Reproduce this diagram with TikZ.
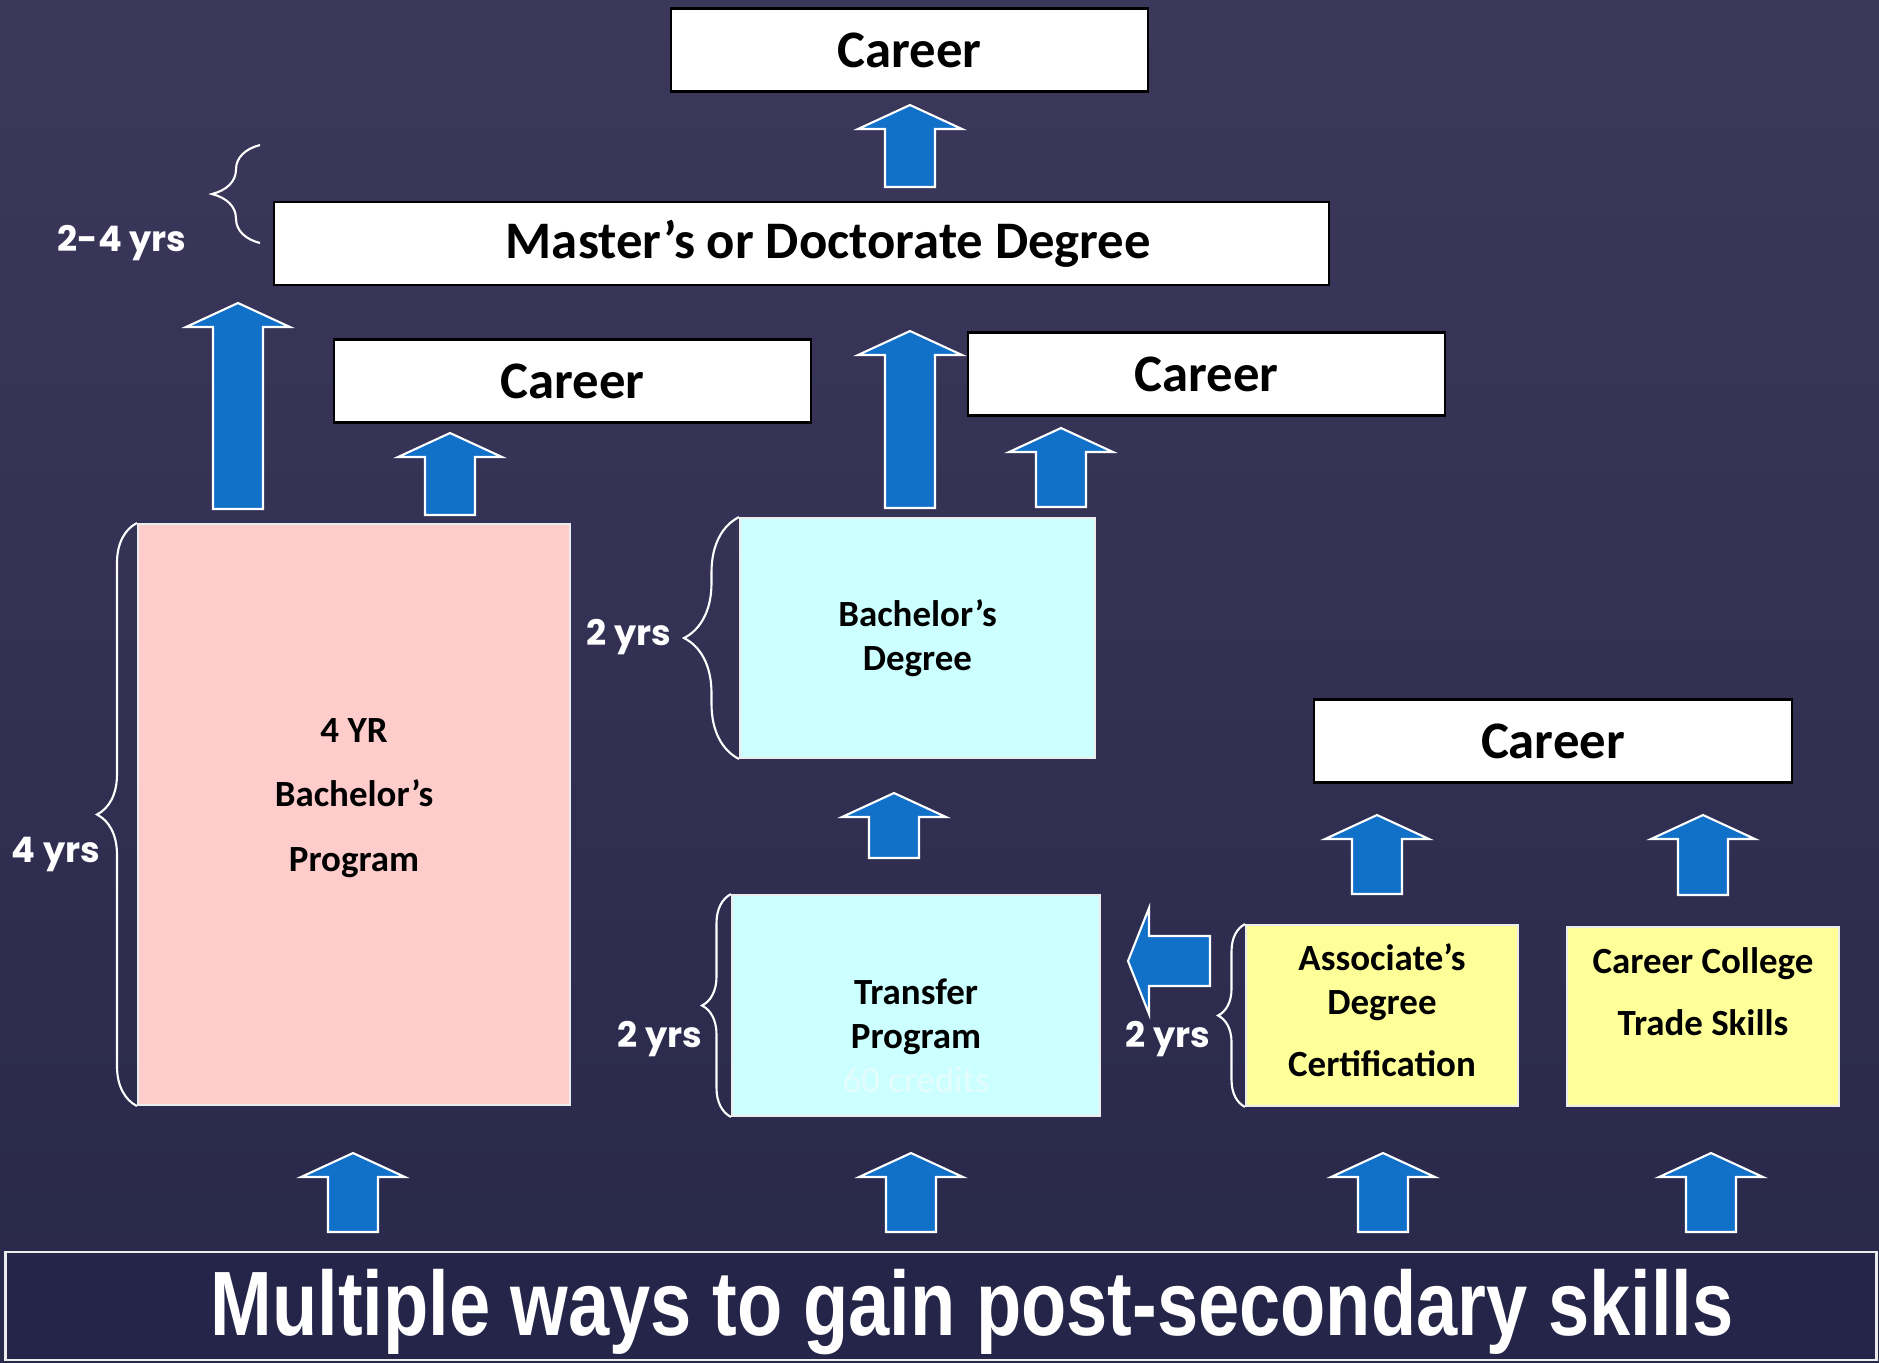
\documentclass[tikz,border=0pt]{standalone}
\usepackage{fontspec}
\setmainfont{Carlito}
\newfontfamily\yrsfont{Poppins}
\newfontfamily\bannerfont{Liberation Sans}
\usepackage{tikz}
\usetikzlibrary{positioning, calc, decorations.pathreplacing}
\definecolor{slidetop}{RGB}{60,56,92}
\definecolor{slidebot}{RGB}{40,40,74}
\definecolor{bannerfill}{RGB}{36,37,72}
\definecolor{arrowblue}{RGB}{17,112,200}
\definecolor{pinkfill}{RGB}{255,204,204}
\definecolor{cyanfill}{RGB}{204,255,255}
\definecolor{yellowfill}{RGB}{255,255,153}
\definecolor{faintcredit}{RGB}{228,252,252}
\tikzstyle{careerbox} = [rectangle, draw=black, fill=white, line width=0.6pt, minimum width=4.77cm, minimum height=0.83cm, inner sep=0pt, font=\fontsize{15}{18}\selectfont\bfseries]
\tikzstyle{pathbox} = [rectangle, draw=white!85!gray, line width=0.5pt, inner sep=0pt, align=center, font=\fontsize{10.5}{12.5}\selectfont\bfseries]
\tikzstyle{boxtext} = [align=center, inner sep=0pt, font=\fontsize{10.5}{12.5}\selectfont\bfseries]
\tikzstyle{yrs} = [text=white, inner sep=0pt, font=\yrsfont\bfseries\fontsize{10}{12}\selectfont]
\tikzstyle{blockarrow} = [fill=arrowblue, draw=white, line width=0.6pt]
\tikzset{yrbrace/.style={draw=white, line width=0.6pt, decorate, decoration={brace, amplitude=#1}}}
% block arrow pointing up: centre x, foot y, tip y (pixel units)
\newcommand{\blockup}[3]{%
  \draw[blockarrow] (#1-25,#2) -- (#1-25,#3+24) -- (#1-52,#3+24) -- (#1,#3)
    -- (#1+52,#3+24) -- (#1+25,#3+24) -- (#1+25,#2) -- cycle;}

\begin{document}
\begin{tikzpicture}[x=0.01cm, y=-0.01cm]
    % Slide background
    \useasboundingbox (0,0) rectangle (1879,1362);
    \shade[top color=slidetop, bottom color=slidebot] (0,0) rectangle (1879,1362);

    % Career boxes
    \node[careerbox] (careermaster) at (909.5,50) {Career};
    \node[careerbox, minimum width=10.55cm] (masters) at (801.5,243.5) {\hspace*{0.54cm}Master’s or Doctorate Degree};
    \node[careerbox] (careerfour) at (572.5,381) {Career};
    \node[careerbox] (careerbach) at (1206.5,374) {Career};
    \node[careerbox] (careertrade) at (1553,741) {Career};

    % Pathway boxes
    \node[pathbox, fill=pinkfill, minimum width=4.32cm, minimum height=5.81cm] (fouryr) at (354,814.5) {};
    \node[boxtext, font=\fontsize{10.5}{18.4}\selectfont\bfseries] (fouryrtext) at ([yshift=0.165cm]fouryr.center) {4 YR\\Bachelor’s\\Program};
    \node[pathbox, fill=cyanfill, minimum width=3.55cm, minimum height=2.4cm] (bachdeg) at (917.5,638) {Bachelor’s\\Degree};
    \node[pathbox, fill=cyanfill, minimum width=3.68cm, minimum height=2.21cm] (transfer) at (916,1005.5) {};
    \node[boxtext] (transfertext) at ([yshift=-0.3cm]transfer.center) {Transfer\\Program\\{\color{faintcredit}\mdseries 60 credits}};
    \node[pathbox, fill=yellowfill, minimum width=2.72cm, minimum height=1.81cm] (assoc) at (1382,1015.5) {};
    \node[boxtext, font=\fontsize{10.5}{12.3}\selectfont\bfseries] (assoctext) at ([yshift=0.05cm]assoc.center) {Associate’s\\Degree\\[5.5pt]Certification};
    \node[pathbox, fill=yellowfill, minimum width=2.72cm, minimum height=1.79cm] (trade) at (1703,1016.5) {};
    \node[boxtext, font=\fontsize{10.5}{17.6}\selectfont\bfseries] (tradetext) at ([yshift=0.245cm]trade.center) {Career College\\Trade Skills};

    % Braces and years
    \draw[yrbrace=0.48cm] (260,243) -- (260,145);
    \draw[yrbrace=0.4cm] (fouryr.south west) -- (fouryr.north west);
    \draw[yrbrace=0.55cm] (bachdeg.south west) -- (bachdeg.north west);
    \draw[yrbrace=0.29cm] (transfer.south west) -- (transfer.north west);
    \draw[yrbrace=0.27cm] (assoc.south west) -- (assoc.north west);
    \node[yrs] (yrsmaster) at (122,243) {2-4 yrs};
    \node[yrs] (yrsfour) at (56,854) {4 yrs};
    \node[yrs] (yrsbach) at (629,637) {2 yrs};
    \node[yrs] (yrstransfer) at (660,1039) {2 yrs};
    \node[yrs] (yrsassoc) at (1168,1039) {2 yrs};

    % Block arrows
    \blockup{910}{187}{105}
    \blockup{238}{509}{303}
    \blockup{450}{515}{433}
    \blockup{910}{508}{331}
    \blockup{1061}{507}{428}
    \blockup{894}{858}{793}
    \blockup{1377}{894}{815}
    \blockup{1703}{895}{815}
    \foreach \x in {353,911,1383,1711} {\blockup{\x}{1232}{1153}}
    \draw[blockarrow] (1210,936) -- (1149,936) -- (1149,908) -- (1128,961)
        -- (1149,1014) -- (1149,986) -- (1210,986) -- cycle;

    % Banner
    \node[draw=white!85!gray, line width=0.8pt, fill=bannerfill, minimum width=18.7cm, minimum height=1.08cm, inner sep=0pt] (banner) at (941,1306) {};
    \node[text=white, inner sep=0pt, font=\bannerfont\bfseries\fontsize{26}{30}\selectfont] (bannertext) at ([xshift=0.31cm, yshift=-0.06cm]banner.center) {\scalebox{0.81}[1]{Multiple ways to gain post-secondary skills}};
\end{tikzpicture}
\end{document}
